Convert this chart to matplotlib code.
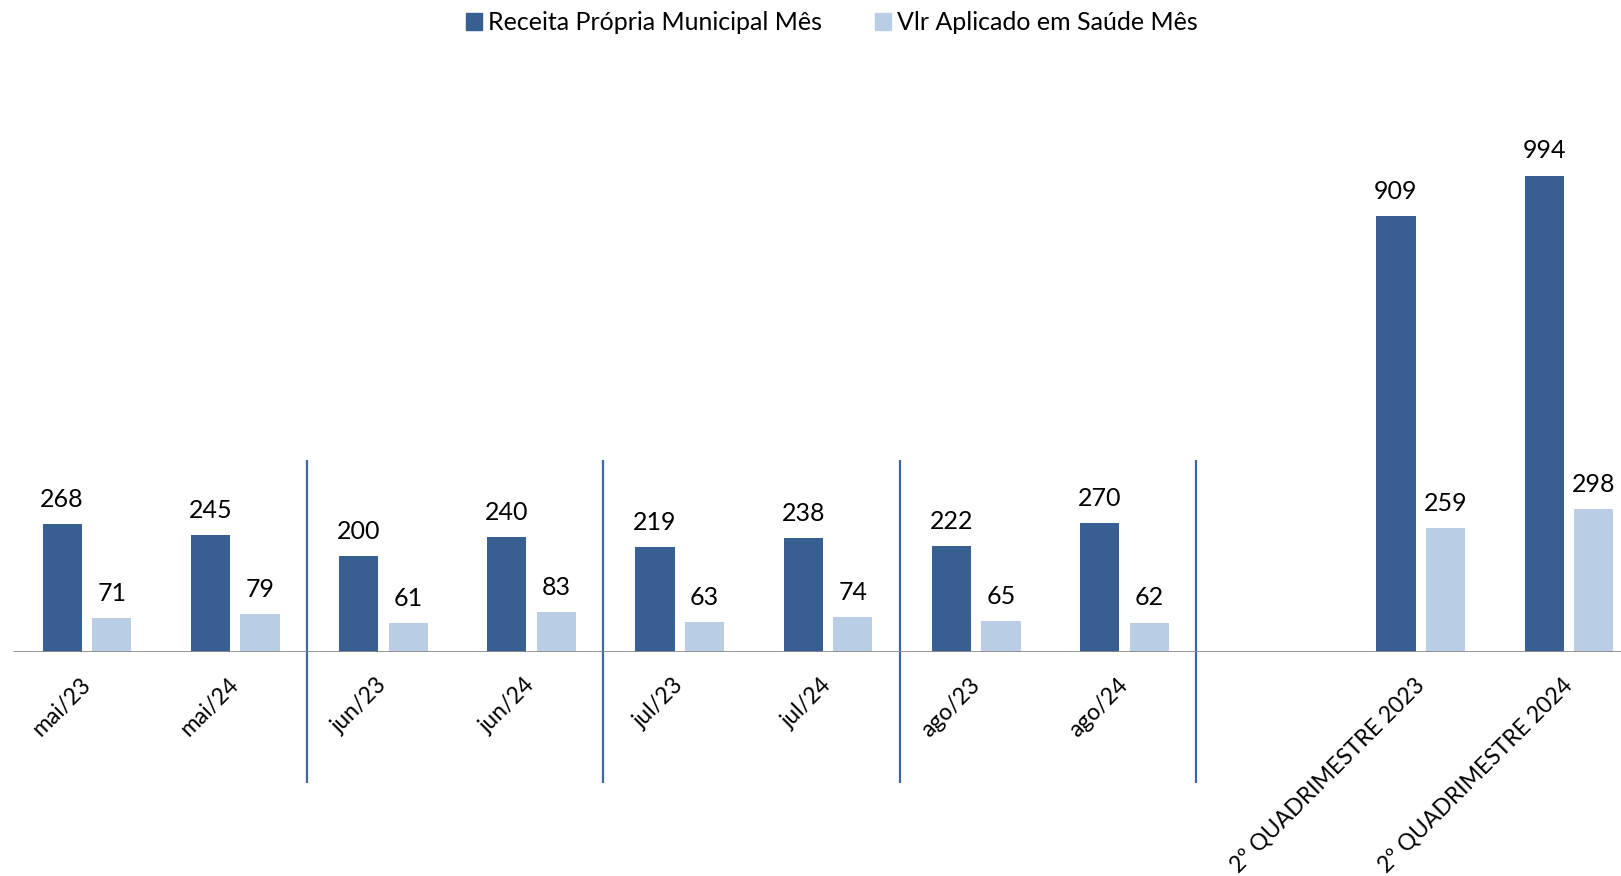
import matplotlib.pyplot as plt
import numpy as np
from matplotlib.patches import Patch

plt.rcParams["font.family"] = ["Lato", "DejaVu Sans"]

cats = ["mai/23", "mai/24", "jun/23", "jun/24", "jul/23", "jul/24", "ago/23", "ago/24",
        "2º QUADRIMESTRE 2023", "2º QUADRIMESTRE 2024"]
receita = [268, 245, 200, 240, 219, 238, 222, 270, 909, 994]
saude = [71, 79, 61, 83, 63, 74, 65, 62, 259, 298]
series_names = ["Receita Própria Municipal Mês", "Vlr Aplicado em Saúde Mês"]

DARK = "#375F92"
LIGHT = "#B9CDE5"
SEP = "#3E67A2"

# monthly slots, then one empty slot before the quadrimester totals
x = np.r_[np.arange(8), np.arange(9, 11)].astype(float)
w = 0.265
off = 0.1675

fig = plt.figure(figsize=(16.21, 8.76), dpi=100)
ax = fig.add_axes([0, 223.7 / 876, 1, 652.3 / 876])
ax.set_xlim(-0.587, 10.351)
ax.set_ylim(0, 1360)

b1 = ax.bar(x - off, receita, w, color=DARK, zorder=2)
b2 = ax.bar(x + off, saude, w, color=LIGHT, zorder=2)
for bars, vals in ((b1, receita), (b2, saude)):
    for r, v in zip(bars, vals):
        ax.annotate(f"{v}", (r.get_x() + r.get_width() / 2, v), xytext=(0, 9.5),
                    textcoords="offset points", ha="center", va="bottom", fontsize=18)

ax.hlines(0, -0.5, 11, color="#8C8C8C", lw=2, zorder=3)
ax.vlines([1.485, 3.485, 5.485, 7.485], -272, 401, color=SEP, lw=1.6, clip_on=False, zorder=1)

for s in ax.spines.values():
    s.set_visible(False)
ax.set_yticks([])
ax.set_xticks(x)
ax.set_xticklabels(cats, rotation=45, ha="right", va="center", rotation_mode="anchor", fontsize=16.5)
ax.tick_params(axis="x", length=0, pad=21)

handles = [Patch(color=DARK), Patch(color=LIGHT)]
fig.legend(handles, series_names, loc="center", bbox_to_anchor=(832 / 1621, 1 - 23 / 876),
           ncol=2, frameon=False, fontsize=18, handlelength=0.65, handleheight=0.65,
           handletextpad=0.25, columnspacing=2.1)

fig.savefig("out.png", dpi=100)
